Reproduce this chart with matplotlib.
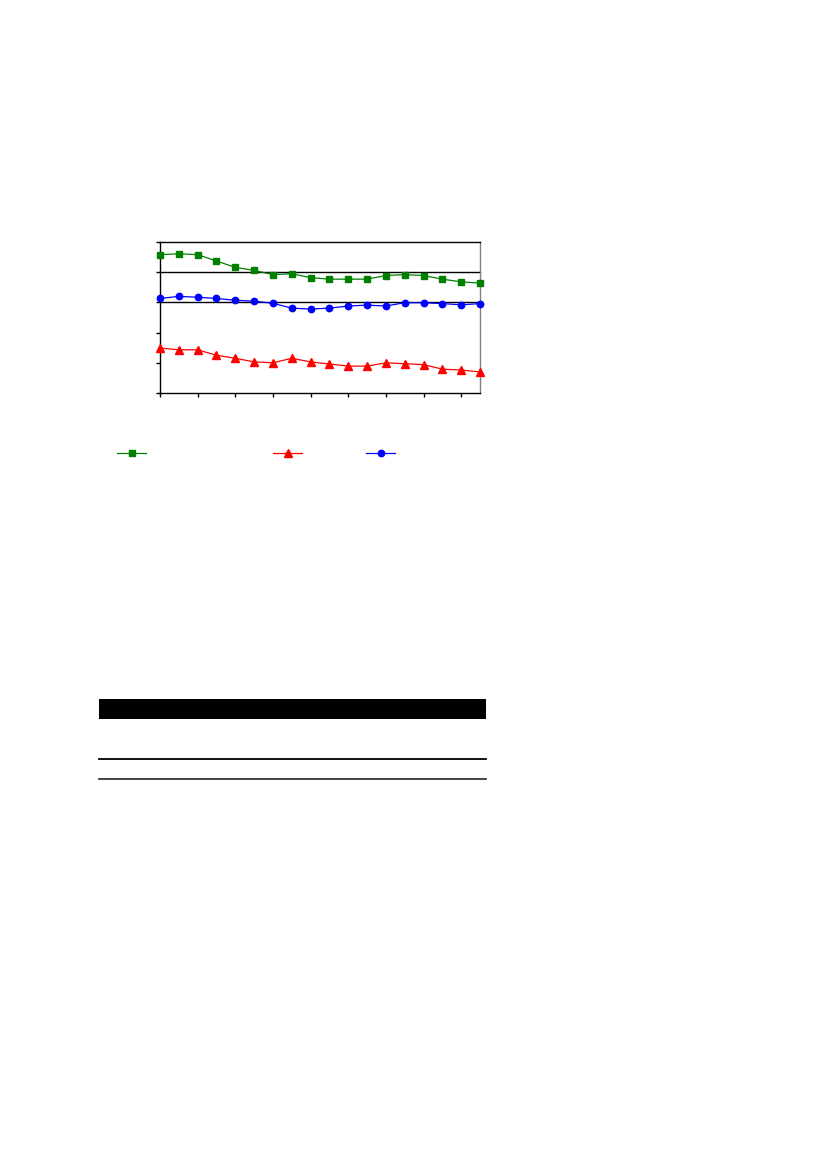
import matplotlib
matplotlib.use('Agg')
import matplotlib.pyplot as plt
from matplotlib.lines import Line2D
from matplotlib.patches import Rectangle

# data (three series, 18 points each)
x_idx = list(range(18))
green_vals = [4.58, 4.61, 4.58, 4.37, 4.16, 4.06, 3.92, 3.95, 3.82, 3.77,
              3.77, 3.77, 3.89, 3.92, 3.89, 3.77, 3.68, 3.64]
blue_vals = [3.13, 3.20, 3.17, 3.13, 3.07, 3.04, 2.97, 2.81, 2.78, 2.81,
             2.88, 2.91, 2.88, 2.99, 2.99, 2.96, 2.92, 2.96]
red_vals = [1.49, 1.43, 1.43, 1.25, 1.15, 1.03, 1.00, 1.15, 1.03, 0.96,
            0.89, 0.89, 1.00, 0.97, 0.94, 0.79, 0.76, 0.70]
x_ticks = [0, 2, 4, 6, 8, 10, 12, 14, 16]
y_ticks = [0, 1, 2, 3, 4, 5]
grid_vals = [3, 4]

W, H = 827, 1169
fig = plt.figure(figsize=(W / 100, H / 100), dpi=100)

# chart
ax = fig.add_axes([160 / W, 1 - 393 / H, 320 / W, 151 / H])
for g in grid_vals:
    ax.axhline(g, color='black', lw=1.0, zorder=1)

ax.plot(x_idx, green_vals, color='#008000', marker='s', ms=4.3, lw=0.9, zorder=3)
ax.plot(x_idx, red_vals, color='#ff0000', marker='^', ms=5.5, lw=0.9, zorder=3)
ax.plot(x_idx, blue_vals, color='#0000ff', marker='o', ms=4.6, lw=0.9, zorder=3)

ax.set_xlim(0, 17)
ax.set_ylim(0, 5)
ax.set_xticks(x_ticks)
ax.set_yticks(y_ticks)
ax.set_xticklabels([])
ax.set_yticklabels([])
ax.tick_params(direction='out', length=3, width=1, color='black')
for s in ['left', 'bottom', 'top']:
    ax.spines[s].set_color('black')
    ax.spines[s].set_linewidth(1.0)
ax.spines['right'].set_color('#808080')
ax.spines['right'].set_linewidth(1.0)
for ln in ax.lines:
    ln.set_clip_on(False)

# legend, three separate samples with no visible labels
legend_items = [('#008000', 's', 4.3, 117), ('#ff0000', '^', 5.5, 273), ('#0000ff', 'o', 4.6, 366)]
for col, mk, size, lx in legend_items:
    h = Line2D([], [], color=col, marker=mk, ms=size, lw=0.9)
    leg = fig.legend(handles=[h], labels=[''], loc='center left',
                     bbox_to_anchor=(lx / W, 1 - 454 / H), frameon=False,
                     handlelength=2.1, borderpad=0, borderaxespad=0,
                     handletextpad=0, fontsize=10)

# table rules below the chart
fig.add_artist(Rectangle((99 / W, 1 - 719 / H), 387 / W, 20 / H,
                         transform=fig.transFigure, color='black', lw=0))
fig.add_artist(Line2D([99 / W, 486 / W], [1 - 759 / H, 1 - 759 / H],
                      transform=fig.transFigure, color='black', lw=1.3))
fig.add_artist(Line2D([99 / W, 486 / W], [1 - 779 / H, 1 - 779 / H],
                      transform=fig.transFigure, color='#222222', lw=1.2))

fig.savefig('out.png', dpi=100)
